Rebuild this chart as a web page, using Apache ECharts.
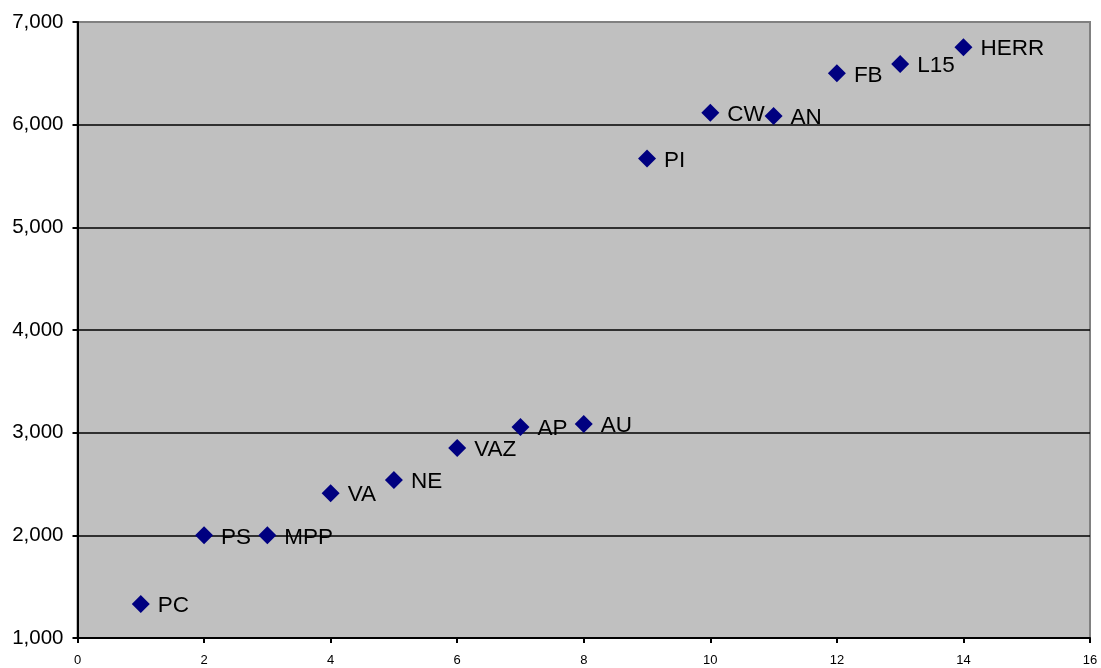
<!DOCTYPE html>
<html>
<head>
<meta charset="utf-8">
<script src="https://cdn.jsdelivr.net/npm/echarts@6/dist/echarts.min.js"></script>
<style>html,body{margin:0;padding:0;background:#fff}#c{width:1101px;height:668px}</style>
</head>
<body>
<div id="c"></div>
<script>
const names = ['PC','PS','MPP','VA','NE','VAZ','AP','AU','PI','CW','AN','FB','L15','HERR'];
const xValues = [1,2,3,4,5,6,7,8,9,10,11,12,13,14];
const yValues = [1331,2000,2000,2410,2540,2850,3055,3085,5670,6115,6085,6500,6590,6755];

const chart = echarts.init(document.getElementById('c'));
const data = xValues.map((x,i)=>({value:[x,yValues[i]], name:names[i]}));
chart.setOption({
  animation:false,
  grid:{left:77.5,right:11,top:22,bottom:30,show:true,backgroundColor:'#c0c0c0',borderColor:'#808080',borderWidth:2},
  xAxis:{type:'value',min:0,max:16,interval:2,
    axisLine:{show:true,onZero:false,lineStyle:{color:'#000',width:2}},
    axisTick:{show:true,length:5,lineStyle:{color:'#000',width:2}},
    axisLabel:{fontFamily:'Liberation Sans, Arial',fontSize:13,color:'#000',margin:16},
    splitLine:{show:false}},
  yAxis:{type:'value',min:1000,max:7000,interval:1000,
    axisLine:{show:true,lineStyle:{color:'#000',width:2}},
    axisTick:{show:true,length:5,lineStyle:{color:'#000',width:2}},
    axisLabel:{fontFamily:'Liberation Sans, Arial',fontSize:20.5,color:'#000',margin:14,
      formatter:v=>v.toLocaleString('en-US')},
    splitLine:{show:true,showMaxLine:false,lineStyle:{color:'#000',width:1.5}}},
  series:[{type:'scatter',symbol:'diamond',symbolSize:[18,18],
    itemStyle:{color:'#000080',opacity:1},
    data:data,
    label:{show:true,position:'right',distance:8,formatter:p=>p.name,offset:[0,2],
      fontFamily:'Liberation Sans, Arial',fontSize:22.5,color:'#000',opacity:1}}]
});
</script>
</body>
</html>
